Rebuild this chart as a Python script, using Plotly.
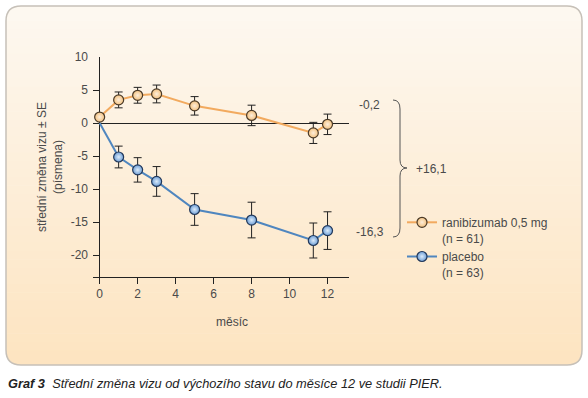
import plotly.graph_objects as go

# ---------------- data ----------------
months = [0, 1, 2, 3, 5, 8, 11.25, 12]
rani_mean = [0.9, 3.5, 4.2, 4.4, 2.6, 1.15, -1.5, -0.2]
rani_se = [0, 1.2, 1.2, 1.35, 1.4, 1.55, 1.6, 1.55]
plac_mean = [0, -5.15, -7.1, -8.85, -13.1, -14.7, -17.8, -16.3]
plac_se = [0, 1.65, 1.85, 2.25, 2.4, 2.7, 2.65, 2.85]

x_tickvals = [0, 2, 4, 6, 8, 10, 12]
y_tickvals = [10, 5, 0, -5, -10, -15, -20]
y_ticktext = ["10", "5", "0", "-5", "-10", "-15", "-20"]

rani_name = "ranibizumab 0,5 mg<br>(n = 61)"
plac_name = "placebo<br>(n = 63)"
label_rani_end = "-0,2"
label_plac_end = "-16,3"
label_diff = "+16,1"
x_title = "měsíc"
y_title = "střední změna vizu ± SE<br>(písmena)"
caption = "<b><i>Graf 3</i></b>  <i>Střední změna vizu od výchozího stavu do měsíce 12 ve studii PIER.</i>"

# ---------------- geometry helpers (pixel -> paper) ----------------
W, H = 588, 398
L, R, T, B = 93, 349, 57, 277


def fx(p):
    return (p - L) / (R - L)


def fy(p):
    return (B - p) / (B - T)


FONT = "Liberation Sans, Arial, sans-serif"
TXT = "#4a4a4a"

fig = go.Figure()

# placebo: plain line segment from baseline (no marker at month 0)
fig.add_trace(go.Scatter(
    x=months[:2], y=plac_mean[:2], mode="lines",
    line=dict(color="#4f86bf", width=2), showlegend=False, hoverinfo="skip",
))
fig.add_trace(go.Scatter(
    x=months[1:], y=plac_mean[1:], mode="lines+markers", name=plac_name,
    line=dict(color="#4f86bf", width=2),
    marker=dict(size=10, color="#6d9ed6",
                gradient=dict(type="radial", color="#dcebfa"),
                line=dict(color="#22385a", width=1.2)),
    error_y=dict(type="data", array=plac_se[1:], color="#222222", thickness=1, width=4),
))
fig.add_trace(go.Scatter(
    x=months, y=rani_mean, mode="lines+markers", name=rani_name,
    line=dict(color="#f2aa5f", width=2),
    marker=dict(size=10, color="#f3c17f",
                gradient=dict(type="radial", color="#fdeedb"),
                line=dict(color="#4a3a28", width=1.2)),
    error_y=dict(type="data", array=rani_se, color="#222222", thickness=1, width=4),
))

# ---------------- background panel with vertical gradient ----------------
shapes = []
px0, px1, py0, py1, rad = 6, 582, 6, 365, 15
top_c = (253, 248, 241)
bot_c = (253, 228, 192)


def col(t):
    return "rgb(%d,%d,%d)" % tuple(round(a + (b - a) * t) for a, b in zip(top_c, bot_c))


def rr_path(x0, y0, x1, y1, r, round_top=True, round_bot=True):
    parts = []
    if round_top:
        parts.append("M %f,%f" % (fx(x0), fy(y0 + r)))
        parts.append("Q %f,%f %f,%f" % (fx(x0), fy(y0), fx(x0 + r), fy(y0)))
        parts.append("L %f,%f" % (fx(x1 - r), fy(y0)))
        parts.append("Q %f,%f %f,%f" % (fx(x1), fy(y0), fx(x1), fy(y0 + r)))
    else:
        parts.append("M %f,%f" % (fx(x0), fy(y0)))
        parts.append("L %f,%f" % (fx(x1), fy(y0)))
    if round_bot:
        parts.append("L %f,%f" % (fx(x1), fy(y1 - r)))
        parts.append("Q %f,%f %f,%f" % (fx(x1), fy(y1), fx(x1 - r), fy(y1)))
        parts.append("L %f,%f" % (fx(x0 + r), fy(y1)))
        parts.append("Q %f,%f %f,%f" % (fx(x0), fy(y1), fx(x0), fy(y1 - r)))
    else:
        parts.append("L %f,%f" % (fx(x1), fy(y1)))
        parts.append("L %f,%f" % (fx(x0), fy(y1)))
    parts.append("Z")
    return " ".join(parts)


span = py1 - py0
shapes.append(dict(type="path", xref="paper", yref="paper", layer="below",
                   path=rr_path(px0, py0, px1, py0 + rad + 0.5, rad, True, False),
                   fillcolor=col(0.02), line=dict(width=0)))
shapes.append(dict(type="path", xref="paper", yref="paper", layer="below",
                   path=rr_path(px0, py1 - rad - 0.5, px1, py1, rad, False, True),
                   fillcolor=col(0.98), line=dict(width=0)))
n = 40
y_start, y_end = py0 + rad, py1 - rad
for i in range(n):
    a = y_start + (y_end - y_start) * i / n
    b = y_start + (y_end - y_start) * (i + 1) / n
    t = ((a + b) / 2 - py0) / span
    shapes.append(dict(type="rect", xref="paper", yref="paper", layer="below",
                       x0=fx(px0), x1=fx(px1), y0=fy(a - 0.3), y1=fy(b + 0.3),
                       fillcolor=col(t), line=dict(width=0)))
shapes.append(dict(type="path", xref="paper", yref="paper", layer="below",
                   path=rr_path(px0, py0, px1, py1, rad),
                   fillcolor="rgba(0,0,0,0)", line=dict(color="#c6c0b8", width=1.5)))

# curly brace
bx0, bx1, btip = 393, 400, 407
bt, bm, bb = 100, 168, 237
brace = " ".join([
    "M %f,%f" % (fx(bx0), fy(bt)),
    "Q %f,%f %f,%f" % (fx(bx1), fy(bt), fx(bx1), fy(bt + 9)),
    "L %f,%f" % (fx(bx1), fy(bm - 8)),
    "Q %f,%f %f,%f" % (fx(bx1), fy(bm), fx(btip), fy(bm)),
    "Q %f,%f %f,%f" % (fx(bx1), fy(bm), fx(bx1), fy(bm + 8)),
    "L %f,%f" % (fx(bx1), fy(bb - 9)),
    "Q %f,%f %f,%f" % (fx(bx1), fy(bb), fx(bx0), fy(bb)),
])
shapes.append(dict(type="path", xref="paper", yref="paper", path=brace,
                   line=dict(color="#555555", width=1), fillcolor="rgba(0,0,0,0)"))

annotations = [
    dict(text=label_rani_end, x=fx(369), y=fy(105), xref="paper", yref="paper",
         showarrow=False, xanchor="center", yanchor="middle", font=dict(size=12, color=TXT)),
    dict(text=label_plac_end, x=fx(370), y=fy(232), xref="paper", yref="paper",
         showarrow=False, xanchor="center", yanchor="middle", font=dict(size=12, color=TXT)),
    dict(text=label_diff, x=fx(414), y=fy(169), xref="paper", yref="paper",
         showarrow=False, xanchor="left", yanchor="middle", font=dict(size=12, color=TXT)),
    dict(text=x_title, x=fx(232), y=fy(322), xref="paper", yref="paper",
         showarrow=False, xanchor="center", yanchor="middle", font=dict(size=12, color=TXT)),
    dict(text=y_title, x=fx(50), y=fy(167), xref="paper", yref="paper", textangle=-90,
         showarrow=False, xanchor="center", yanchor="middle", font=dict(size=12, color=TXT)),
    dict(text=caption, x=fx(6), y=fy(383), xref="paper", yref="paper",
         showarrow=False, xanchor="left", yanchor="middle", font=dict(size=12.8, color="#222222")),
]

fig.update_layout(
    width=W, height=H,
    margin=dict(l=L, r=W - R, t=T, b=H - B, pad=0),
    paper_bgcolor="white", plot_bgcolor="rgba(0,0,0,0)",
    font=dict(family=FONT, size=12, color=TXT),
    shapes=shapes, annotations=annotations,
    showlegend=True,
    legend=dict(x=fx(402), y=fy(208), xanchor="left", yanchor="top",
                xref="paper", yref="paper",
                bgcolor="rgba(0,0,0,0)", traceorder="reversed", valign="top",
                font=dict(size=12, color=TXT), tracegroupgap=3),
    xaxis=dict(range=[-0.35, 13.13], tickvals=x_tickvals, showgrid=False,
               showline=True, linecolor="#222222", linewidth=1,
               ticks="outside", ticklen=6, tickcolor="#222222",
               zeroline=True, zerolinecolor="#222222", zerolinewidth=1,
               tickfont=dict(size=12, color=TXT)),
    yaxis=dict(range=[-23.33, 10], tickvals=y_tickvals, ticktext=y_ticktext,
               showgrid=False, showline=False,
               ticks="inside", ticklen=6, tickcolor="#222222",
               zeroline=True, zerolinecolor="#222222", zerolinewidth=1,
               ticklabelstandoff=4,
               tickfont=dict(size=12, color=TXT)),
)

fig.write_html("out.html", config={"displayModeBar": False},
               post_script="document.body.style.margin='0px';document.body.style.overflow='hidden';")
